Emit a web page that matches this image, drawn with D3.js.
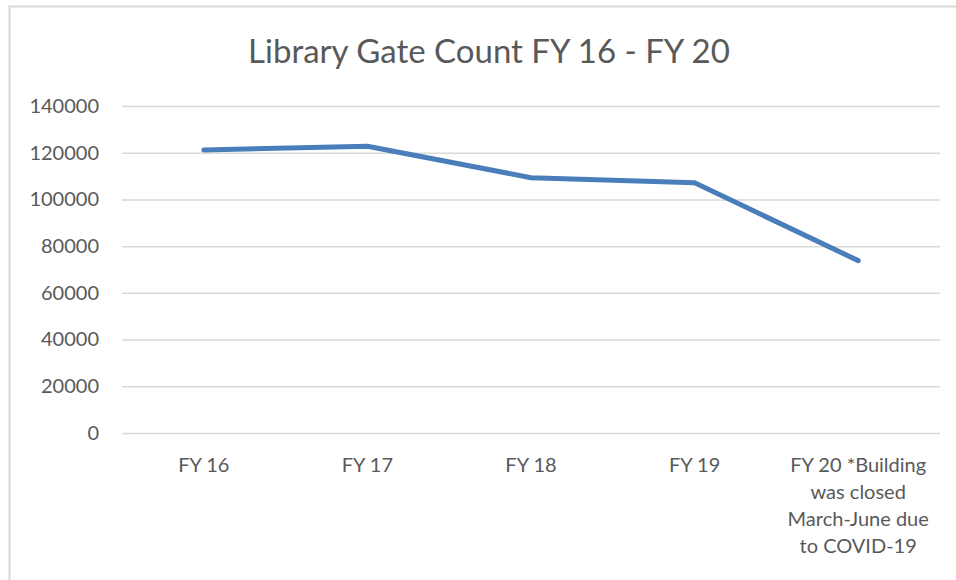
<!DOCTYPE html>
<html>
<head>
	<meta charset="UTF-8">
	<title>Library Gate Count FY 16 - FY 20</title>
	<script src="https://d3js.org/d3.v7.min.js"></script>
	<style>
		body { margin: 0; background: #fff; }
		svg text { font-family: Lato, "Open Sans", sans-serif; fill: #595959; }
	</style>
</head>
<body>
<div id="chart"></div>
<script>
	// data
	let years = ["FY 16", "FY 17", "FY 18", "FY 19", "FY 20 *Building was closed March-June due to COVID-19"]
	let labelLines = [["FY 16"], ["FY 17"], ["FY 18"], ["FY 19"], ["FY 20 *Building", "was closed", "March-June due", "to COVID-19"]]
	let gateCount = [121200, 122800, 109300, 107100, 73800]
	let yTicks = [0, 20000, 40000, 60000, 80000, 100000, 120000, 140000]

	var W = 956, H = 580
	var svg = d3.select("#chart").append("svg").attr("width", W).attr("height", H)

	// chart frame
	svg.append("rect").attr("x", 9.5).attr("y", 6.5).attr("width", 960).attr("height", 600)
		.attr("fill", "none").attr("stroke", "#d9d9d9").attr("stroke-width", 2)

	var x = d3.scaleBand().domain(years).range([122, 940])
	var y = d3.scaleLinear().domain([0, 140000]).range([433, 106])

	svg.append("text").attr("x", 489).attr("y", 63).attr("text-anchor", "middle")
		.style("font-size", "33px").text("Library Gate Count FY 16 - FY 20")

	// gridlines
	var yAxis = svg.append("g").attr("transform", "translate(122,0)")
		.call(d3.axisLeft(y).tickValues(yTicks).tickFormat(d3.format("d")).tickSize(-818).tickPadding(23))
	yAxis.select(".domain").remove()
	yAxis.selectAll("line").attr("stroke", "#d9d9d9").attr("stroke-width", 1.5)
	yAxis.selectAll("text").style("font-size", "20px").attr("fill", "#595959")

	// x labels
	var xl = svg.append("g").selectAll("text").data(years).enter().append("text")
		.attr("x", d => x(d) + x.bandwidth() / 2).attr("y", 472)
		.attr("text-anchor", "middle").style("font-size", "20px")
	xl.each(function(d, i) {
		d3.select(this).selectAll("tspan").data(labelLines[i]).enter().append("tspan")
			.attr("x", x(d) + x.bandwidth() / 2).attr("dy", (t, j) => j == 0 ? 0 : 27).text(t => t)
	})

	var line = d3.line().x((d, i) => x(years[i]) + x.bandwidth() / 2).y(d => y(d))
	svg.append("path").datum(gateCount).attr("d", line).attr("fill", "none")
		.attr("stroke", "#4a7ebb").attr("stroke-width", 5).attr("stroke-linecap", "round").attr("stroke-linejoin", "round")
</script>
</body>
</html>
